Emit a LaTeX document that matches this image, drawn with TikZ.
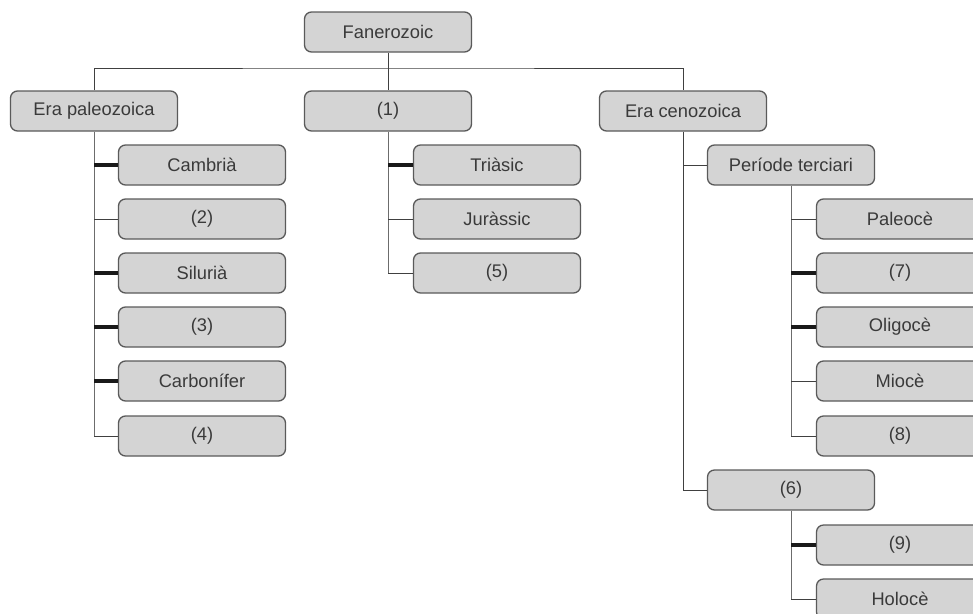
\documentclass[tikz,border=0pt]{standalone}
\usepackage{fontspec}
\setmainfont{Liberation Sans}
\usetikzlibrary{positioning}

\definecolor{boxfill}{HTML}{D4D4D4}
\definecolor{boxline}{HTML}{5A5A5A}
\definecolor{inkgray}{HTML}{3A3A3A}

\begin{document}
\begin{tikzpicture}[x=1pt,y=-1pt,
        box/.style = {rectangle, rounded corners=7pt, draw=boxline, line width=1.3pt,
                      fill=boxfill, minimum width=167pt, minimum height=40pt,
                      text=inkgray, font=\fontsize{18.3}{21}\selectfont},
        trunk/.style = {line width=1pt, gray!85!black},
        twig/.style = {line width=1pt, black!75},
        fat/.style = {line width=3.2pt, black!90}]

            \clip (0,0) rectangle (973,613);
            %\draw [help lines] (0,0) grid (973,613);

            \path   (388,32)  node (a) [box] {Fanerozoic}
                    (94,111)  node (b) [box] {Era paleozoica}
                    (388,111) node (c) [box] {(1)}
                    (683,111) node (d) [box] {Era cenozoica}
                    (202,165) node (e) [box] {Cambrià}
                    (202,219) node (f) [box] {(2)}
                    (202,273) node (g) [box] {Silurià}
                    (202,327) node (h) [box] {(3)}
                    (202,381) node (i) [box] {Carbonífer}
                    (202,436) node (j) [box] {(4)}
                    (497,165) node (k) [box] {Triàsic}
                    (497,219) node (l) [box] {Juràssic}
                    (497,273) node (m) [box] {(5)}
                    (791,165) node (n) [box] {Període terciari}
                    (900,219) node (o) [box] {Paleocè}
                    (900,273) node (p) [box] {(7)}
                    (900,327) node (q) [box] {Oligocè}
                    (900,381) node (r) [box] {Miocè}
                    (900,436) node (s) [box] {(8)}
                    (791,490) node (t) [box] {(6)}
                    (900,545) node (u) [box] {(9)}
                    (900,599) node (v) [box] {Holocè};

            \coordinate (top) at (388,68);

            % top level
            \draw[twig] (a.south) -- (c.north);
            \draw[twig] (b.north) |- (top) -| (d.north);

            % era paleozoica
            \draw[trunk] (b.south) -- (b.south |- j.west);
            \draw[fat]  (b.south |- e.west) -- (e.west);
            \draw[twig] (b.south |- f.west) -- (f.west);
            \draw[fat]  (b.south |- g.west) -- (g.west);
            \draw[fat]  (b.south |- h.west) -- (h.west);
            \draw[fat]  (b.south |- i.west) -- (i.west);
            \draw[twig] (b.south |- j.west) -- (j.west);

            % (1)
            \draw[trunk] (c.south) -- (c.south |- m.west);
            \draw[fat]  (c.south |- k.west) -- (k.west);
            \draw[twig] (c.south |- l.west) -- (l.west);
            \draw[twig] (c.south |- m.west) -- (m.west);

            % era cenozoica
            \draw[twig] (d.south) |- (t.west);
            \draw[twig] (d.south |- n.west) -- (n.west);

            % periode terciari
            \draw[trunk] (n.south) -- (n.south |- s.west);
            \draw[twig] (n.south |- o.west) -- (o.west);
            \draw[fat]  (n.south |- p.west) -- (p.west);
            \draw[fat]  (n.south |- q.west) -- (q.west);
            \draw[twig] (n.south |- r.west) -- (r.west);
            \draw[twig] (n.south |- s.west) -- (s.west);

            % (6)
            \draw[trunk] (t.south) -- (t.south |- v.west);
            \draw[fat]  (t.south |- u.west) -- (u.west);
            \draw[twig] (t.south |- v.west) -- (v.west);
\end{tikzpicture}
\end{document}
